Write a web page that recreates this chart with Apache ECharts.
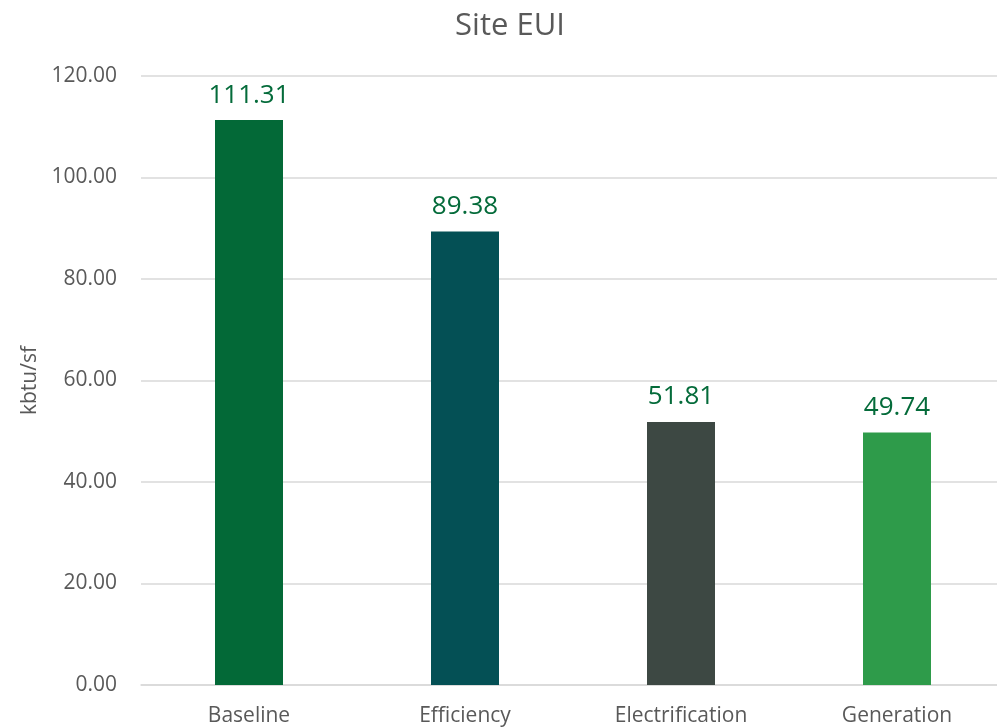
<!DOCTYPE html>
<html><head><meta charset="utf-8">
<script src="https://cdn.jsdelivr.net/npm/echarts@6/dist/echarts.min.js"></script>
<style>html,body{margin:0;padding:0;background:#fff;overflow:hidden;width:997px;height:727px}#c{width:1005px;height:727px}</style>
</head><body><div id="c"></div>
<script>
const categories = ["Baseline", "Efficiency", "Electrification", "Generation"];
const values = [111.31, 89.38, 51.81, 49.74];
const barColors = ["#036937", "#045055", "#3d4843", "#2e9b4a"];
const yTicks = [0, 20, 40, 60, 80, 100, 120];

const chart = echarts.init(document.getElementById('c'));
chart.setOption({
  animation: false,
  title: {text: 'Site EUI', left: 505, top: 6, textAlign: 'center',
    textStyle: {fontFamily: 'Open Sans', fontSize: 31, fontWeight: 'normal', color: '#595959'}},
  grid: {left: 141, right: 0, top: 76, bottom: 42, containLabel: false},
  xAxis: {type: 'category', data: categories,
    axisLine: {show: true, lineStyle: {color: '#d9d9d9', width: 1.5}},
    axisTick: {show: false},
    axisLabel: {fontFamily: 'Open Sans', fontSize: 21, color: '#595959', margin: 21}},
  yAxis: {type: 'value', min: yTicks[0], max: yTicks[yTicks.length-1], interval: 20,
    name: 'kbtu/sf', nameLocation: 'middle', nameGap: 96, nameRotate: 90,
    nameTextStyle: {fontFamily: 'Open Sans', fontSize: 21, color: '#595959'},
    axisLine: {show: false}, axisTick: {show: false},
    splitLine: {lineStyle: {color: '#d9d9d9', width: 1.5}},
    axisLabel: {fontFamily: 'Open Sans', fontSize: 21, color: '#595959', margin: 24,
      formatter: v => v.toFixed(2)}},
  series: [{type: 'bar', barWidth: 68,
    data: values.map((v, i) => ({value: v, itemStyle: {color: barColors[i]}})),
    label: {show: true, position: 'top', distance: 12, fontFamily: 'Open Sans', fontSize: 26,
      color: '#046b3a', formatter: p => p.value.toFixed(2)}}]
});
</script></body></html>
